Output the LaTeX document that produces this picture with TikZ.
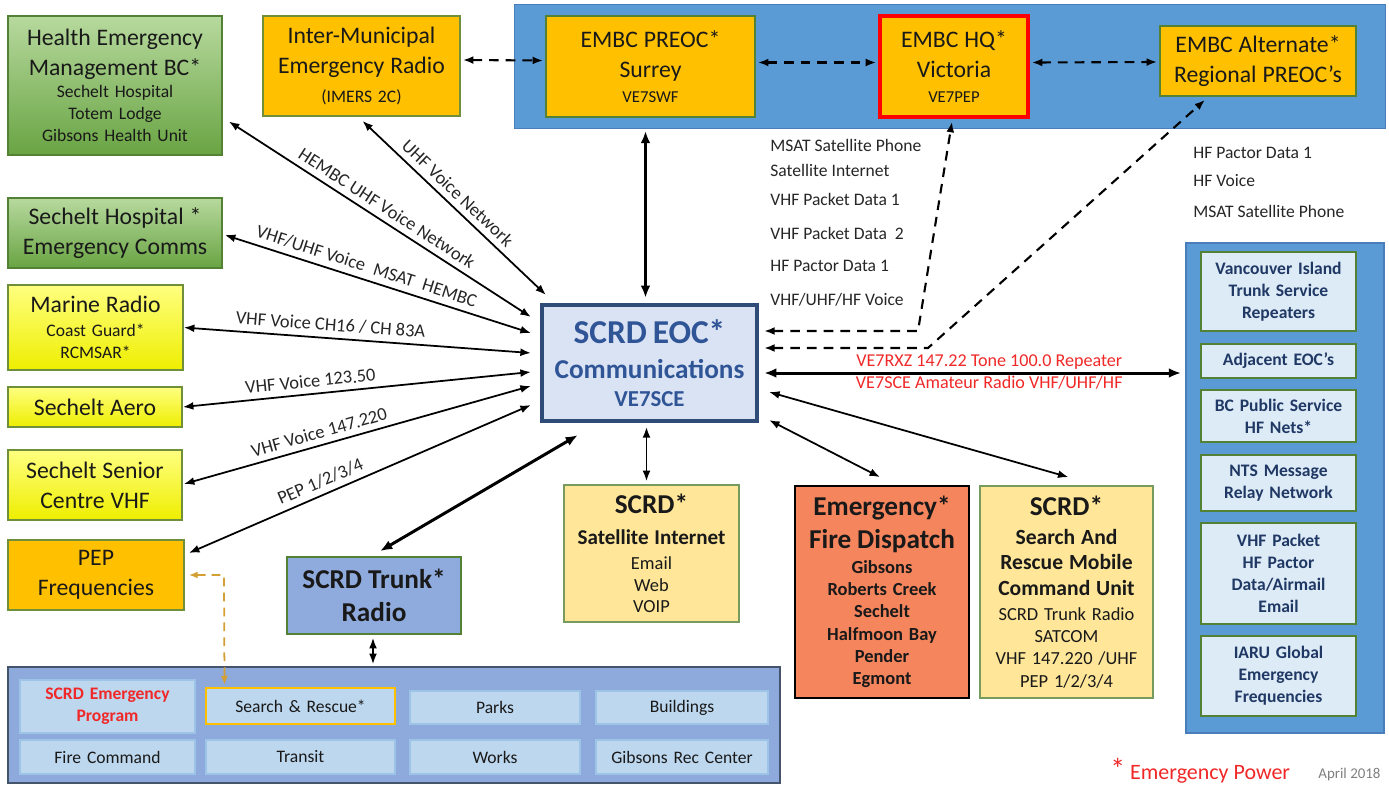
\documentclass[tikz,border=0pt]{standalone}
\usepackage{fontspec}
\setmainfont{Carlito}
\usetikzlibrary{positioning,calc,arrows.meta}

\definecolor{bandblue}{HTML}{5B9BD5}
\definecolor{bandedge}{HTML}{4A7EBB}
\definecolor{amber}{HTML}{FFC000}
\definecolor{olive}{HTML}{6F8F3A}
\definecolor{leafhi}{HTML}{B7D99E}
\definecolor{leaflo}{HTML}{69A443}
\definecolor{leafedge}{HTML}{548235}
\definecolor{lemonhi}{HTML}{FFFF80}
\definecolor{lemonlo}{HTML}{EEEE00}
\definecolor{eocfill}{HTML}{DAE3F3}
\definecolor{eocedge}{HTML}{2F4B77}
\definecolor{eoctext}{HTML}{2F5597}
\definecolor{trunkblue}{HTML}{8FAADC}
\definecolor{sand}{HTML}{FFE699}
\definecolor{coral}{HTML}{F5855D}
\definecolor{paleblue}{HTML}{DDEBF7}
\definecolor{navy}{HTML}{203864}
\definecolor{deptfill}{HTML}{8EA9DB}
\definecolor{deptedge}{HTML}{44546A}
\definecolor{unitfill}{HTML}{BDD7EE}
\definecolor{unitedge}{HTML}{9DC3E6}
\definecolor{alertred}{HTML}{F02828}
\definecolor{pepline}{HTML}{D4A034}

\newcommand{\hugetxt}{\fontsize{19}{22}\selectfont}
\newcommand{\bigtxt}{\fontsize{13.5}{17}\selectfont}
\newcommand{\smltxt}{\fontsize{10}{12.5}\selectfont}

\tikzset{
  box/.style={draw, rectangle, align=center, inner sep=0pt, line width=1pt, text=black!90},
  dims/.style 2 args={text width=#1cm, minimum height=#2cm},
  leaf/.style={box, draw=leafedge, top color=leafhi, bottom color=leaflo},
  lemon/.style={box, draw=olive, top color=lemonhi, bottom color=lemonlo},
  amberbox/.style={box, draw=olive, fill=amber},
  sandbox/.style={box, draw=leafedge!80, fill=sand},
  unit/.style={box, draw=leafedge, line width=1.4pt, fill=paleblue, text=navy, font=\smltxt\bfseries},
  dept/.style={box, draw=unitedge, fill=unitfill, font=\smltxt},
  lbl/.style={font=\smltxt, text=black!85, inner sep=0pt},
  along/.style={font=\fontsize{10.5}{12}\selectfont, sloped, above, text=black!85},
  link/.style={<->, line width=1pt},
  heavy/.style={<->, line width=1.7pt, >={Latex[length=7pt,width=5.5pt]}},
  hop/.style={<->, dash pattern=on 5.5pt off 4pt, line width=1.2pt}
}

\begin{document}
\begin{tikzpicture}[x=0.02cm, y=-0.02cm, >={Latex[length=6pt,width=4.5pt]}]
  \useasboundingbox (0,0) rectangle (1389,785);
  % panels
  \node[draw=bandedge, fill=bandblue, minimum width=17.42cm, minimum height=2.48cm, inner sep=0pt] (band) at (949.5,66) {};
  \node[draw=bandedge, line width=1pt, fill=bandblue, minimum width=3.96cm, minimum height=9.8cm, inner sep=0pt] (rcol) at (1285,488) {};
  \node[draw=deptedge, line width=1pt, fill=deptfill, minimum width=15.44cm, minimum height=2.32cm, inner sep=0pt] (dept) at (394,725) {};

  % top row
  \node[leaf, dims={4.28}{2.78}] (hembc) at (115,85.5)
    {\bigtxt Health Emergency\\Management BC*\par\smltxt Sechelt Hospital\\Totem Lodge\\Gibsons Health Unit\par};
  \node[amberbox, dims={3.94}{2.0}] (imer) at (361.5,66)
    {\bigtxt Inter-Municipal\\Emergency Radio\par\vspace{4pt}\smltxt (IMERS 2C)\par};
  \node[amberbox, draw=leafedge, dims={4.18}{2.02}] (preoc) at (650.5,66.5)
    {\bigtxt EMBC PREOC*\\Surrey\par\vspace{2pt}\fontsize{9.5}{12}\selectfont VE7SWF\par};
  \node[amberbox, draw=red, line width=2pt, dims={2.96}{2.02}] (hq) at (954,66.5)
    {\bigtxt EMBC HQ*\\Victoria\par\vspace{2pt}\fontsize{9.5}{12}\selectfont VE7PEP\par};
  \node[amberbox, draw=leafedge, dims={3.92}{1.4}] (alt) at (1258,61)
    {\bigtxt EMBC Alternate*\\Regional PREOC’s\par};

  % left column
  \node[leaf, dims={4.28}{1.4}] (shosp) at (115,233) {\bigtxt Sechelt Hospital *\\Emergency Comms\par};
  \node[lemon, dims={3.5}{1.7}] (marine) at (95.5,327.5)
    {\bigtxt Marine Radio\par\vspace{1pt}\smltxt Coast Guard*\\RCMSAR*\par};
  \node[lemon, dims={3.48}{0.8}] (aero) at (95,407) {\bigtxt Sechelt Aero\par};
  \node[lemon, dims={3.48}{1.4}] (senior) at (95,485) {\bigtxt Sechelt Senior\\Centre VHF\par};
  \node[amberbox, dims={3.52}{1.4}] (pep) at (96,575) {\bigtxt PEP\\Frequencies\par};

  % centre
  \node[box, draw=eocedge, line width=2.4pt, fill=eocfill, text=eoctext, dims={4.3}{2.32}] (eoc) at (649.5,363)
    {\hugetxt\bfseries SCRD EOC*\par\fontsize{15.5}{20}\selectfont Communications\par\fontsize{13}{16}\selectfont VE7SCE\par};
  \node[box, draw=leafedge, fill=trunkblue, dims={3.48}{1.54}] (trunk) at (374,595.5)
    {\fontsize{15.5}{19}\selectfont\bfseries SCRD Trunk*\\Radio\par};
  \node[sandbox, dims={3.5}{2.74}] (satnet) at (651.5,553.5)
    {\fontsize{15.5}{18}\selectfont\bfseries SCRD*\par\fontsize{12}{17.5}\selectfont Satellite Internet\par
     \vspace{2pt}\mdseries\fontsize{10.5}{12.3}\selectfont Email\\Web\\VOIP\par};
  \node[box, fill=coral, dims={3.48}{4.24}] (fire) at (882,592)
    {\fontsize{15.5}{18.7}\selectfont\bfseries Emergency*\\Fire Dispatch\par\vspace{1.5pt}
     \fontsize{10.5}{12.7}\selectfont Gibsons\\Roberts Creek\\Sechelt\\Halfmoon Bay\\Pender\\Egmont\par};
  \node[sandbox, dims={3.46}{4.24}] (sar) at (1066.5,592)
    {\fontsize{15.5}{18}\selectfont\bfseries SCRD*\par\vspace{2pt}
     \fontsize{12.3}{14.5}\selectfont Search And\\Rescue Mobile\\Command Unit\par\vspace{1.5pt}
     \mdseries\fontsize{10.5}{12.7}\selectfont SCRD Trunk Radio\\SATCOM\\VHF 147.220 /UHF\\PEP 1/2/3/4\par};

  % right column
  \node[unit, dims={3.1}{1.58}] (vi) at (1278.5,291.5) {Vancouver Island\\Trunk Service\\Repeaters\par};
  \node[unit, dims={3.1}{0.68}] (adj) at (1278.5,361) {Adjacent EOC’s\par};
  \node[unit, dims={3.1}{1.04}] (bcps) at (1278.5,416) {BC Public Service\\HF Nets*\par};
  \node[unit, dims={3.1}{1.12}] (nts) at (1278.5,483) {NTS Message\\Relay Network\par};
  \node[unit, dims={3.1}{2.02}] (pkt) at (1278.5,573.5) {VHF Packet\\HF Pactor\\Data/Airmail\\Email\par};
  \node[unit, dims={3.1}{1.6}] (iaru) at (1278.5,676) {IARU Global\\Emergency\\Frequencies\par};

  % departments
  \node[dept, dims={3.5}{1.06}, text=alertred, font=\smltxt\bfseries] (pgm) at (107.5,706.5) {SCRD Emergency\\Program\par};
  \node[dept, draw=amber, line width=1.4pt, dims={3.78}{0.72}] (sarb) at (300.5,706) {Search \& Rescue*};
  \node[dept, dims={3.4}{0.66}] (parks) at (495,707.5) {Parks};
  \node[dept, dims={3.44}{0.66}] (bldg) at (682,707.5) {Buildings};
  \node[dept, dims={3.5}{0.68}] (firecmd) at (107.5,757) {Fire Command};
  \node[dept, dims={3.78}{0.68}] (transit) at (300.5,757) {Transit};
  \node[dept, dims={3.4}{0.68}] (works) at (495,757) {Works};
  \node[dept, dims={3.44}{0.68}] (rec) at (682,757) {Gibsons Rec Center};

  % links into the EOC
  \draw[link] ($(hembc.east)+(6,36)$) -- node[along, pos=0.5] {HEMBC UHF Voice Network} ($(eoc.west)+(-9,-46)$);
  \draw[link] ($(imer.south)+(1,4)$) -- node[along, pos=0.47] {UHF Voice Network} ($(eoc.north west)+(6,-8)$);
  \draw[link] ($(shosp.east)+(2,2)$) -- node[along, pos=0.45] {VHF/UHF Voice\enspace MSAT\enspace HEMBC} ($(eoc.west)+(-9,-30)$);
  \draw[link] (marine.east) -- node[along, pos=0.42] {VHF Voice CH16 / CH 83A} ($(eoc.west)+(-9,-10)$);
  \draw[link] (aero.east) -- node[along, pos=0.37] {VHF Voice 123.50} ($(eoc.west)+(-9,9)$);
  \draw[link] ($(senior.east)+(1,-1)$) -- node[along, pos=0.4] {VHF Voice 147.220} ($(eoc.west)+(-9,23)$);
  \draw[link] ($(pep.east)+(4,-22)$) -- node[along, pos=0.4] {PEP 1/2/3/4} ($(eoc.west)+(-9,42)$);
  \draw[heavy] ($(trunk.north)+(6,-5)$) -- ($(eoc.south west)+(38,12)$);
  \draw[heavy] ($(preoc.south)+(-5,13)$) -- ($(eoc.north)+(-4,-5)$);
  \draw[heavy] ($(eoc.east)+(5,10)$) --
    node[pos=0.54, above, inner sep=1pt, text=alertred, font=\fontsize{10.3}{12}\selectfont] {VE7RXZ 147.22 Tone 100.0 Repeater}
    node[pos=0.54, below, inner sep=1pt, text=alertred, font=\fontsize{10.3}{12}\selectfont] {VE7SCE Amateur Radio VHF/UHF/HF}
    ($(rcol.west)+(-4,-115)$);
  \draw[link] ($(eoc.south)+(-3,4)$) -- ($(satnet.north)+(-5,-3)$);
  \draw[link] ($(eoc.south east)+(10,-3)$) -- ($(fire.north)+(-2,-8)$);
  \draw[link] ($(eoc.east)+(10,29)$) -- ($(sar.north)+(2,-8)$);
  \draw[link] ($(trunk.south)+(-1,3)$) -- ($(dept.north)+(-21,-2)$);

  % EMBC dashed links
  \draw[hop] ($(imer.east)+(2,-6)$) -- ($(preoc.west)+(-2,-6)$);
  \draw[hop] ($(preoc.east)+(2,-4)$) -- ($(hq.west)+(-2,-4)$);
  \draw[hop] ($(hq.east)+(2,-4)$) -- ($(alt.west)+(-2,1)$);
  \coordinate (hqbend) at (918,331);
  \coordinate (altbend) at (928,348);
  \draw[hop] ($(eoc.east)+(5,-32)$) -- (hqbend) -- ($(hq.south)+(-2,3)$);
  \draw[hop] ($(eoc.east)+(5,-15)$) -- (altbend) -- ($(alt.south)+(-53,3)$);
  \foreach \yy/\txt [count=\i] in {145/MSAT Satellite Phone, 170/Satellite Internet, 199/VHF Packet Data 1,
      233/{VHF Packet Data~ 2}, 266/HF Pactor Data 1, 300/{VHF/UHF/HF Voice}}
    \node[lbl, anchor=west] (hqlink\i) at (770,\yy) {\txt};
  \foreach \yy/\txt [count=\i] in {153/HF Pactor Data 1, 181/HF Voice, 211/MSAT Satellite Phone}
    \node[lbl, anchor=west] (altlink\i) at (1193,\yy) {\txt};

  % PEP to search and rescue
  \coordinate (pepbend) at (224,575);
  \draw[<->, pepline, dash pattern=on 5pt off 3.5pt, line width=1pt, >={Latex[length=5pt,width=4pt]}]
    ($(pep.east)+(4,0)$) -- (pepbend) -- ($(sarb.north)+(-76,-2)$);

  % footer
  \node[anchor=base west, text=alertred, font=\fontsize{12.5}{14}\selectfont, inner sep=0pt] (power) at (1110,779)
    {{\fontsize{17}{17}\selectfont *} Emergency Power};
  \node[anchor=base west, text=black!50, font=\fontsize{8.5}{10}\selectfont, inner sep=0pt] (stamp) at (1318,778) {April 2018};
\end{tikzpicture}
\end{document}
